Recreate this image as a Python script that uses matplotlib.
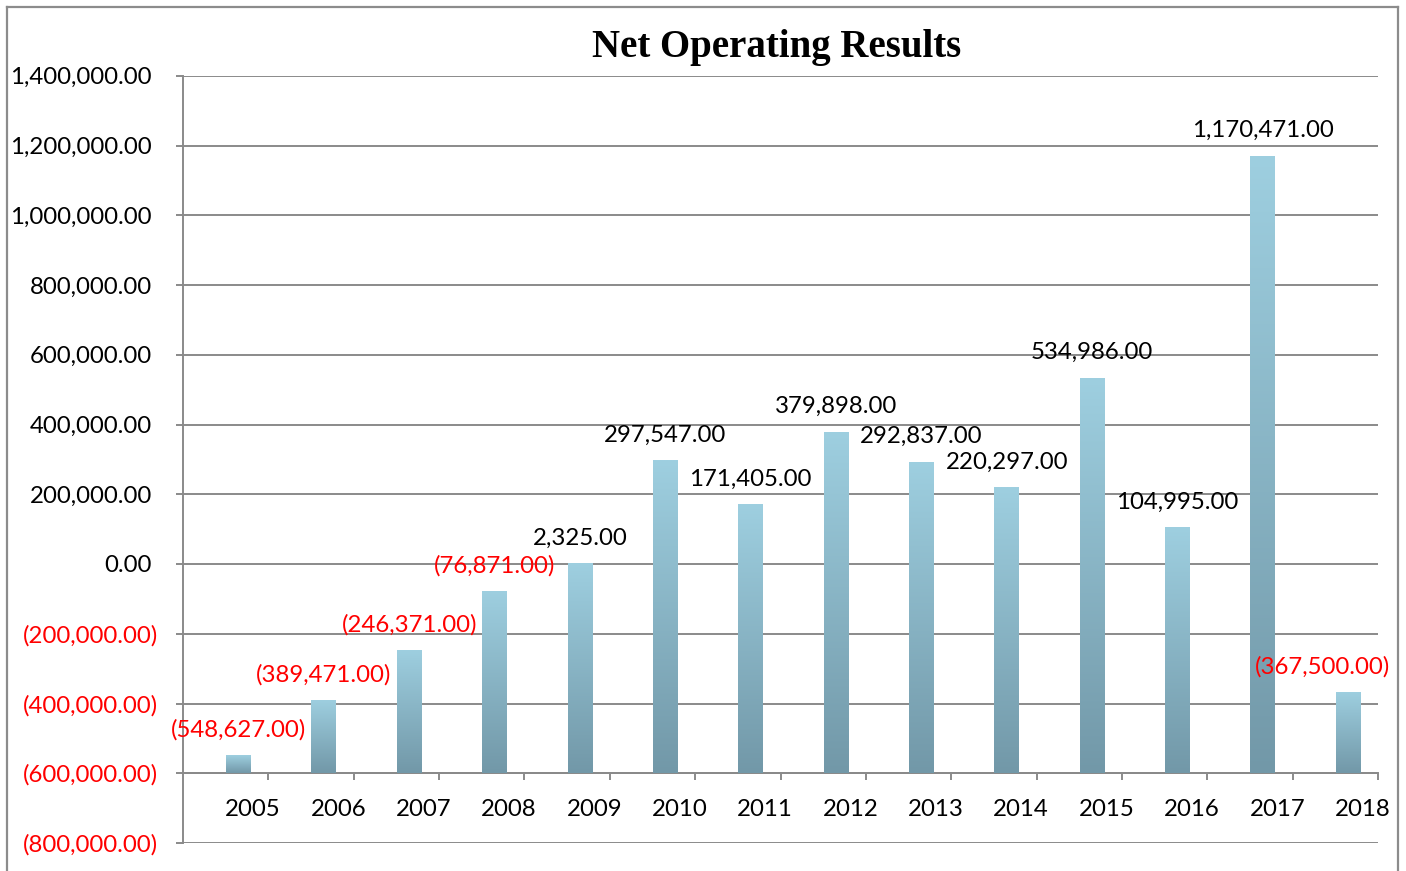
#!/usr/bin/env python3
import matplotlib
matplotlib.use("Agg")
import matplotlib.pyplot as plt
import numpy as np
from matplotlib.colors import LinearSegmentedColormap
from matplotlib.lines import Line2D

years = ["2005", "2006", "2007", "2008", "2009", "2010", "2011",
         "2012", "2013", "2014", "2015", "2016", "2017", "2018"]
results = [-548627, -389471, -246371, -76871, 2325, 297547, 171405,
           379898, 292837, 220297, 534986, 104995, 1170471, -367500]
y_ticks = [-800000, -600000, -400000, -200000, 0, 200000, 400000,
           600000, 800000, 1000000, 1200000, 1400000]
base = -600000  # category axis crosses here


def fmt(v):
    s = f"{abs(v):,.2f}"
    return f"({s})" if v < 0 else s


def main():
    plt.rcParams['font.family'] = ['Lato', 'DejaVu Sans']
    W, H = 1406, 871
    fig = plt.figure(figsize=(W / 100, H / 100), dpi=100)
    ax = fig.add_axes([183 / W, 28 / H, (1378 - 183) / W, (843 - 76) / H])

    x = np.arange(len(years))
    vals = np.array(results, dtype=float)
    grid_c = '#8a8a8a'
    fs = 17.3

    ax.set_xlim(-0.5, len(years) - 0.5)
    ax.set_ylim(y_ticks[0], y_ticks[-1])

    # gridlines
    for t in y_ticks:
        ax.axhline(t, color=grid_c, lw=1.4, zorder=1)

    # bars with vertical gradient
    cmap = LinearSegmentedColormap.from_list('bar', ['#7298a8', '#9ecfe0'])
    grad = np.linspace(0, 1, 256).reshape(-1, 1)
    bars = ax.bar(x + 0.15, vals - base, bottom=base, width=0.29,
                  color='none', edgecolor='none', zorder=3)
    for b in bars:
        x0, y0 = b.get_x(), b.get_y()
        w, h = b.get_width(), b.get_height()
        im = ax.imshow(grad, extent=(x0, x0 + w, y0, y0 + h), origin='lower',
                       aspect='auto', cmap=cmap, zorder=3, interpolation='bilinear')
        im.set_clip_path(b)
    ax.set_xlim(-0.5, len(years) - 0.5)
    ax.set_ylim(y_ticks[0], y_ticks[-1])

    # data labels
    for i, (b, v) in enumerate(zip(bars, vals)):
        dx = -18.7 if i == len(vals) - 1 else 0
        ax.annotate(fmt(v), xy=(b.get_x() + b.get_width() / 2, v),
                    xytext=(dx, 18.3), textcoords='offset points',
                    ha='center', va='center', fontsize=fs,
                    color='red' if v < 0 else 'black', zorder=5)

    # axes styling
    for s in ['top', 'right']:
        ax.spines[s].set_visible(False)
    ax.spines['left'].set_color(grid_c)
    ax.spines['left'].set_linewidth(1.4)
    ax.spines['bottom'].set_position(('data', base))
    ax.spines['bottom'].set_color(grid_c)
    ax.spines['bottom'].set_linewidth(1.4)

    ax.set_yticks(y_ticks)
    ax.set_yticklabels([])
    ax.tick_params(axis='y', length=5, width=1.4, color=grid_c, direction='out')
    ytr = ax.get_yaxis_transform()
    for t in y_ticks:
        off = -18 if t < 0 else -22.5
        ax.annotate(fmt(t), xy=(0, t), xycoords=ytr, xytext=(off, -1.3),
                    textcoords='offset points', ha='right', va='center',
                    fontsize=fs, color='red' if t < 0 else 'black',
                    annotation_clip=False)

    ax.set_xticks(x + 0.32)
    ax.set_xticklabels(years, fontsize=fs)
    ax.tick_params(axis='x', length=0, pad=18.5)
    ax.set_xticks(np.arange(len(years)) + 0.5, minor=True)
    ax.tick_params(axis='x', which='minor', length=5, width=1.4, color=grid_c,
                   direction='out')

    fig.text(777 / W, 1 - 47 / H, 'Net Operating Results', ha='center', va='center',
             fontsize=28, fontweight='bold', family=['Liberation Serif', 'DejaVu Serif'])

    # outer chart border (open at the bottom, cropped)
    bc = '#8c8c8c'
    fig.add_artist(Line2D([7 / W, 7 / W], [0, 1 - 7 / H], transform=fig.transFigure,
                          color=bc, lw=1.6))
    fig.add_artist(Line2D([7 / W, 1398 / W], [1 - 7 / H, 1 - 7 / H],
                          transform=fig.transFigure, color=bc, lw=1.6))
    fig.add_artist(Line2D([1398 / W, 1398 / W], [0, 1 - 7 / H],
                          transform=fig.transFigure, color=bc, lw=1.6))

    fig.savefig('out.png', dpi=100)
    plt.close(fig)


if __name__ == "__main__":
    main()
